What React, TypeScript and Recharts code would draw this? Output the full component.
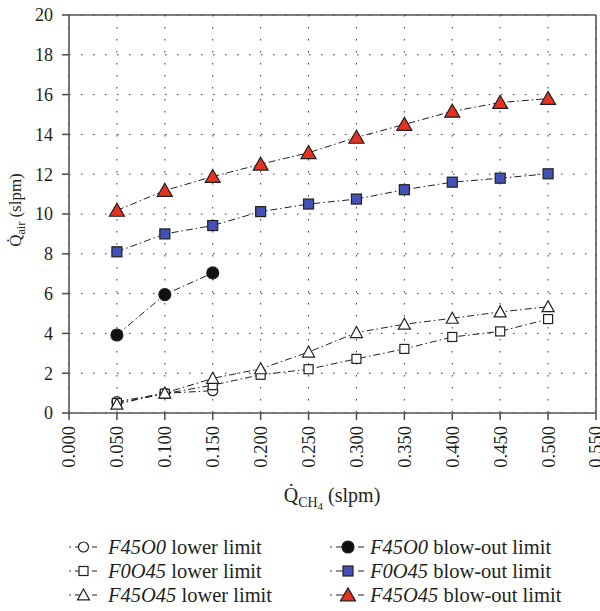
import { LineChart, Line, XAxis, YAxis, CartesianGrid, ReferenceLine } from 'recharts';

const xValues = [0.05, 0.1, 0.15, 0.2, 0.25, 0.3, 0.35, 0.4, 0.45, 0.5];
const xTicks = [0, 0.05, 0.1, 0.15, 0.2, 0.25, 0.3, 0.35, 0.4, 0.45, 0.5, 0.55];
const yTicks = [0, 2, 4, 6, 8, 10, 12, 14, 16, 18, 20];

const f45o0Lower = [0.57, 0.99, 1.12];
const f0o45Lower = [0.5, 0.97, 1.4, 1.92, 2.2, 2.72, 3.22, 3.82, 4.1, 4.72];
const f45o45Lower = [0.44, 1.0, 1.74, 2.22, 3.06, 4.04, 4.46, 4.76, 5.08, 5.34];
const f45o0Blow = [3.92, 5.95, 7.04];
const f0o45Blow = [8.1, 9.0, 9.42, 10.12, 10.5, 10.75, 11.22, 11.6, 11.8, 12.02];
const f45o45Blow = [10.18, 11.18, 11.88, 12.5, 13.08, 13.85, 14.5, 15.16, 15.6, 15.8];

const toRows = (vals: number[]) => vals.map((y, i) => ({ x: xValues[i], y }));

const FONT = "'Liberation Serif', 'Times New Roman', Tinos, 'DejaVu Serif', 'Noto Serif', Times, serif";
const INK = '#231f20';
const DASH = '7 3 1.5 3';

type MarkerKind = 'circle' | 'square' | 'triangle';

function Marker({ kind, cx, cy, fill, big }: { kind: MarkerKind; cx: number; cy: number; fill: string; big: boolean }) {
  const stroke = INK;
  if (kind === 'circle') {
    return <circle cx={cx} cy={cy} r={big ? 6 : 5} fill={fill} stroke={stroke} strokeWidth={1.2} />;
  }
  if (kind === 'square') {
    const s = big ? 10 : 9;
    return <rect x={cx - s / 2} y={cy - s / 2} width={s} height={s} fill={fill} stroke={stroke} strokeWidth={1.2} />;
  }
  const w = big ? 15 : 12;
  const h = big ? 13 : 11;
  return (
    <polygon
      points={`${cx},${cy - h * 0.55} ${cx - w / 2},${cy + h * 0.45} ${cx + w / 2},${cy + h * 0.45}`}
      fill={fill}
      stroke={stroke}
      strokeWidth={1.2}
      strokeLinejoin="miter"
    />
  );
}

const makeDot = (kind: MarkerKind, fill: string, big: boolean) => (props: any) => {
  const { cx, cy, index } = props;
  if (cx == null || cy == null) return <g key={index} />;
  return <Marker key={index} kind={kind} cx={cx} cy={cy} fill={fill} big={big} />;
};

const series = [
  { name: 'F45O0', suffix: ' lower limit', data: toRows(f45o0Lower), kind: 'circle' as MarkerKind, fill: '#ffffff', big: false },
  { name: 'F0O45', suffix: ' lower limit', data: toRows(f0o45Lower), kind: 'square' as MarkerKind, fill: '#ffffff', big: false },
  { name: 'F45O45', suffix: ' lower limit', data: toRows(f45o45Lower), kind: 'triangle' as MarkerKind, fill: '#ffffff', big: false },
  { name: 'F45O0', suffix: ' blow-out limit', data: toRows(f45o0Blow), kind: 'circle' as MarkerKind, fill: '#111111', big: true },
  { name: 'F0O45', suffix: ' blow-out limit', data: toRows(f0o45Blow), kind: 'square' as MarkerKind, fill: '#4350b5', big: true },
  { name: 'F45O45', suffix: ' blow-out limit', data: toRows(f45o45Blow), kind: 'triangle' as MarkerKind, fill: '#e5321f', big: true },
];

function XTick({ x, y, payload }: any) {
  return (
    <text
      x={x}
      y={y + 4}
      transform={`rotate(-90 ${x} ${y + 4})`}
      textAnchor="end"
      dy="0.35em"
      fontSize={18.5}
      style={{ fontFamily: FONT }}
      fill={INK}
    >
      {Number(payload.value).toFixed(3)}
    </text>
  );
}

function YTick({ x, y, payload }: any) {
  return (
    <text x={x} y={y} textAnchor="end" dy="0.35em" fontSize={18} style={{ fontFamily: FONT }} fill={INK}>
      {payload.value}
    </text>
  );
}

function LegendItem({ s }: { s: (typeof series)[number] }) {
  return (
    <div style={{ display: 'flex', alignItems: 'center', height: 24 }}>
      <svg width={38} height={24} style={{ display: 'block' }}>
        <circle cx={4} cy={12} r={0.8} fill={INK} />
        <line x1={9} y1={12} x2={s.big ? 22 : 14} y2={12} stroke={INK} strokeWidth={1} />
        <Marker kind={s.kind} cx={s.big ? 21 : 17.5} cy={12} fill={s.fill} big={s.big} />
        <line x1={s.big ? 31 : 26} y1={12} x2={s.big ? 37 : 31} y2={12} stroke={INK} strokeWidth={1} />
      </svg>
      <span style={{ marginLeft: s.big ? 5 : 4, whiteSpace: 'nowrap' }}>
        <i>{s.name}</i>
        {s.suffix}
      </span>
    </div>
  );
}

export default function App() {
  return (
    <div style={{ position: 'absolute', left: 0, top: 0, width: 600, height: 611, background: '#fff' }}>
      <LineChart width={600} height={611} margin={{ top: 15, right: 4, left: 0, bottom: 0 }}>
        <CartesianGrid stroke="#333" strokeDasharray="1.5 10.5" strokeWidth={1} />
        <XAxis
          dataKey="x"
          type="number"
          domain={[0, 0.55]}
          ticks={xTicks}
          interval={0}
          height={198}
          stroke="#555"
          strokeWidth={1.6}
          tickSize={7}
          tick={<XTick />}
          allowDuplicatedCategory={false}
        />
        <YAxis
          type="number"
          domain={[0, 20]}
          ticks={yTicks}
          interval={0}
          width={69}
          stroke="#555"
          strokeWidth={1.6}
          tickSize={7}
          tickMargin={9}
          tick={<YTick />}
        />
        <ReferenceLine y={20} stroke="#555" strokeWidth={1.6} />
        <ReferenceLine x={0.55} stroke="#555" strokeWidth={1.6} />
        {series.map((s, i) => (
          <Line
            key={i}
            data={s.data}
            dataKey="y"
            name={s.name + s.suffix}
            stroke={INK}
            strokeWidth={1}
            strokeDasharray={DASH}
            dot={makeDot(s.kind, s.fill, s.big)}
            activeDot={false}
            isAnimationActive={false}
          />
        ))}
        <text x={332} y={502} textAnchor="middle" style={{ fontFamily: FONT }} fontSize={20} fill={INK}>
          <tspan>Q̇</tspan>
          <tspan fontSize={14} dy={5}>CH</tspan>
          <tspan fontSize={11} dy={3}>4</tspan>
          <tspan fontSize={20} dy={-8}> (slpm)</tspan>
        </text>
        <text
          x={21}
          y={210}
          transform="rotate(-90 21 210)"
          textAnchor="middle"
          style={{ fontFamily: FONT }}
          fontSize={17}
          fill={INK}
        >
          <tspan>Q̇</tspan>
          <tspan fontSize={12} dy={4}>air</tspan>
          <tspan fontSize={17} dy={-4}> (slpm)</tspan>
        </text>
      </LineChart>
      <div
        style={{
          position: 'absolute',
          top: 535,
          left: 66,
          fontFamily: FONT,
          fontSize: 20.5,
          color: INK,
          lineHeight: '24px',
        }}
      >
        {series.slice(0, 3).map((s, i) => (
          <LegendItem key={i} s={s} />
        ))}
      </div>
      <div
        style={{
          position: 'absolute',
          top: 535,
          left: 327,
          fontFamily: FONT,
          fontSize: 20.5,
          color: INK,
          lineHeight: '24px',
        }}
      >
        {series.slice(3).map((s, i) => (
          <LegendItem key={i} s={s} />
        ))}
      </div>
    </div>
  );
}
